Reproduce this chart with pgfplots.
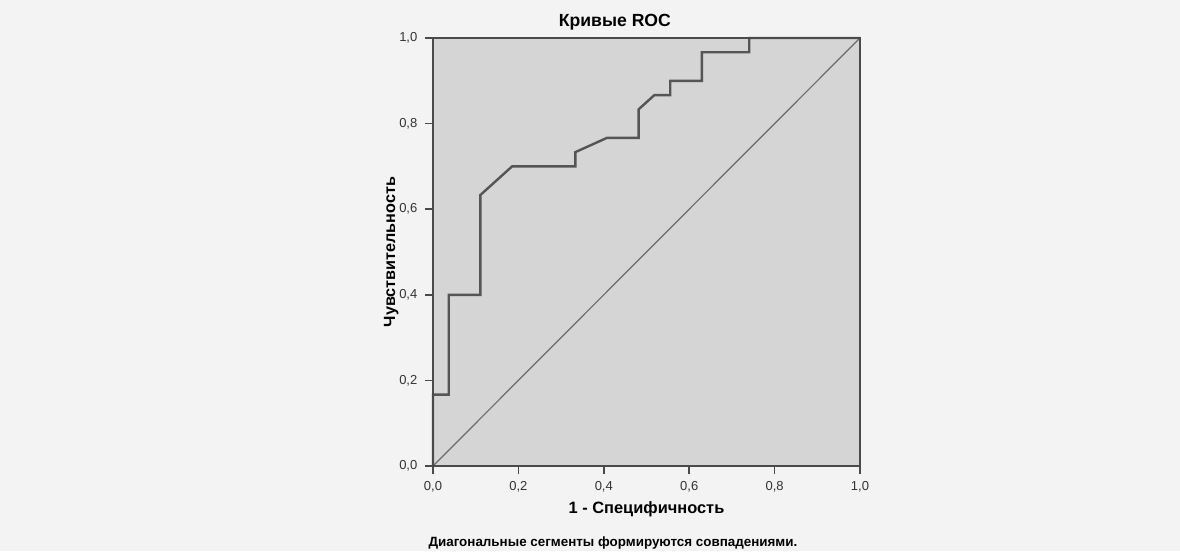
\documentclass[border=0pt]{standalone}
\usepackage{fontspec}
\setmainfont{Liberation Sans}
\usepackage{pgfplots}
\pgfplotsset{compat=1.18}
\definecolor{pagebg}{HTML}{F3F3F3}
\definecolor{plotbg}{HTML}{D5D5D5}
\definecolor{axcol}{HTML}{4A4A4A}
\definecolor{curvecol}{HTML}{555555}
\definecolor{diagcol}{HTML}{6A6A6A}
\begin{document}
\begin{tikzpicture}[x=1pt,y=1pt]
\fill[pagebg] (0,0) rectangle (590,275.5);
\begin{axis}[
  at={(216.5pt,42.5pt)}, anchor=south west,
  scale only axis, width=213.5pt, height=214pt,
  xmin=0, xmax=1, ymin=0, ymax=1,
  xtick={0,0.2,0.4,0.6,0.8,1}, ytick={0,0.2,0.4,0.6,0.8,1},
  axis background/.style={fill=plotbg},
  axis line style={axcol, line width=1.4pt},
  axis on top,
  tick align=outside, tick pos=left,
  major tick length=4pt,
  tick style={axcol, line width=0.8pt},
  ticklabel style={font=\fontsize{6.5}{7.5}\selectfont, text=black!80},
  /pgf/number format/use comma,
  /pgf/number format/fixed,
  /pgf/number format/fixed zerofill,
  /pgf/number format/precision=1,
  /pgf/number format/assume math mode=true,
  xticklabel style={yshift=-0.3pt},
  yticklabel style={xshift=-0.3pt},
  title={Кривые ROC},
  every axis title/.style={font=\bfseries\fontsize{8.8}{10}\selectfont, at={(axis description cs:0.426,1.036)}, anchor=center},
  xlabel={1 - Специфичность},
  xlabel style={font=\bfseries\fontsize{8.2}{9}\selectfont, at={(axis description cs:0.5,-0.1005)}, anchor=center},
  ylabel={Чувствительность},
  ylabel style={font=\bfseries\fontsize{8.1}{9}\selectfont, at={(axis description cs:-0.098,0.5)}, anchor=center},
  clip=false,
]
\addplot[diagcol, line width=0.6pt] coordinates {(0,0) (1,1)};
\addplot[curvecol, line width=1.2pt] coordinates {
  (0,0) (0,0.1667) (0.0370,0.1667) (0.0370,0.4) (0.1111,0.4)
  (0.1111,0.6333) (0.1852,0.7) (0.3333,0.7) (0.3333,0.7333)
  (0.4074,0.7667) (0.4815,0.7667) (0.4815,0.8333) (0.5185,0.8667)
  (0.5556,0.8667) (0.5556,0.9) (0.6296,0.9) (0.6296,0.9667)
  (0.7407,0.9667) (0.7407,1) (1,1)
};
\node[font=\bfseries\fontsize{6.7}{8}\selectfont, anchor=center] at (axis description cs:0.4215,-0.180) {Диагональные сегменты формируются совпадениями.};
\end{axis}
\end{tikzpicture}
\end{document}
